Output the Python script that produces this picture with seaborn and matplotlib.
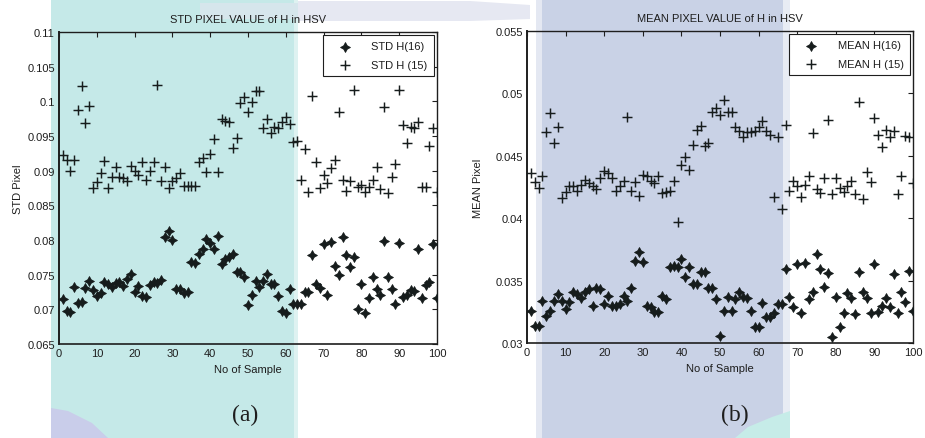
import matplotlib
matplotlib.use("Agg")
import matplotlib.pyplot as plt
from matplotlib.patches import Rectangle, Polygon
from matplotlib.ticker import FixedLocator, FuncFormatter
import pandas as pd
import seaborn as sns

# ---- data -------------------------------------------------------------
samples = list(range(1, 101))

std_h16 = [0.0715, 0.0697, 0.0696, 0.0732, 0.0709, 0.0710, 0.0731, 0.0741, 0.0728, 0.0719,
           0.0723, 0.0739, 0.0736, 0.0732, 0.0738, 0.0739, 0.0733, 0.0744, 0.0751, 0.0725,
           0.0734, 0.0719, 0.0718, 0.0735, 0.0739, 0.0738, 0.0742, 0.0805, 0.0813, 0.0800,
           0.0730, 0.0729, 0.0724, 0.0725, 0.0768, 0.0767, 0.0780, 0.0787, 0.0801, 0.0796,
           0.0787, 0.0806, 0.0765, 0.0773, 0.0775, 0.0780, 0.0754, 0.0754, 0.0746, 0.0706,
           0.0720, 0.0741, 0.0732, 0.0741, 0.0751, 0.0736, 0.0736, 0.0719, 0.0698, 0.0695,
           0.0730, 0.0708, 0.0708, 0.0708, 0.0725, 0.0725, 0.0778, 0.0736, 0.0731, 0.0794,
           0.0721, 0.0797, 0.0763, 0.0749, 0.0804, 0.0778, 0.0761, 0.0775, 0.0700, 0.0736,
           0.0694, 0.0716, 0.0746, 0.0729, 0.0720, 0.0799, 0.0746, 0.0730, 0.0708, 0.0795,
           0.0718, 0.0720, 0.0728, 0.0727, 0.0787, 0.0716, 0.0735, 0.0739, 0.0794, 0.0716]

std_h15 = [0.0922, 0.0915, 0.0899, 0.0915, 0.0988, 0.1022, 0.0969, 0.0993, 0.0875, 0.0884,
           0.0896, 0.0914, 0.0875, 0.0891, 0.0905, 0.0891, 0.0889, 0.0885, 0.0907, 0.0900,
           0.0894, 0.0912, 0.0886, 0.0899, 0.0912, 0.1024, 0.0885, 0.0905, 0.0875, 0.0885,
           0.0890, 0.0897, 0.0878, 0.0878, 0.0878, 0.0878, 0.0913, 0.0918, 0.0898, 0.0924,
           0.0945, 0.0898, 0.0974, 0.0971, 0.0970, 0.0932, 0.0947, 0.0997, 0.1006, 0.0984,
           0.0999, 0.1015, 0.1015, 0.0962, 0.0974, 0.0954, 0.0963, 0.0961, 0.0970, 0.0977,
           0.0967, 0.0941, 0.0943, 0.0886, 0.0931, 0.0869, 0.1007, 0.0912, 0.0875, 0.0894,
           0.0882, 0.0904, 0.0915, 0.0984, 0.0887, 0.0871, 0.0885, 0.1017, 0.0877, 0.0880,
           0.0869, 0.0876, 0.0886, 0.0906, 0.0873, 0.0992, 0.0868, 0.0891, 0.0909, 0.1017,
           0.0966, 0.0940, 0.0963, 0.0961, 0.0970, 0.0877, 0.0877, 0.0936, 0.0961, 0.0869]

mean_h16 = [0.0326, 0.0314, 0.0314, 0.0334, 0.0322, 0.0326, 0.0334, 0.0339, 0.0334, 0.0327,
            0.0333, 0.0341, 0.0339, 0.0336, 0.0341, 0.0343, 0.0330, 0.0344, 0.0343, 0.0331,
            0.0338, 0.0330, 0.0330, 0.0331, 0.0338, 0.0334, 0.0344, 0.0366, 0.0373, 0.0365,
            0.0330, 0.0329, 0.0325, 0.0325, 0.0338, 0.0335, 0.0361, 0.0362, 0.0361, 0.0367,
            0.0353, 0.0361, 0.0347, 0.0347, 0.0357, 0.0357, 0.0344, 0.0344, 0.0335, 0.0306,
            0.0326, 0.0337, 0.0326, 0.0335, 0.0341, 0.0337, 0.0336, 0.0326, 0.0313, 0.0313,
            0.0332, 0.0321, 0.0321, 0.0324, 0.0331, 0.0331, 0.0359, 0.0337, 0.0329, 0.0363,
            0.0324, 0.0364, 0.0335, 0.0341, 0.0371, 0.0359, 0.0345, 0.0356, 0.0305, 0.0337,
            0.0313, 0.0324, 0.0340, 0.0336, 0.0323, 0.0357, 0.0341, 0.0336, 0.0324, 0.0363,
            0.0325, 0.0330, 0.0336, 0.0329, 0.0355, 0.0324, 0.0341, 0.0333, 0.0358, 0.0326]

mean_h15 = [0.0436, 0.0429, 0.0424, 0.0434, 0.0469, 0.0484, 0.0460, 0.0473, 0.0416, 0.0421,
            0.0426, 0.0426, 0.0422, 0.0427, 0.0431, 0.0428, 0.0426, 0.0423, 0.0432, 0.0438,
            0.0436, 0.0432, 0.0422, 0.0426, 0.0430, 0.0481, 0.0422, 0.0429, 0.0418, 0.0435,
            0.0434, 0.0430, 0.0428, 0.0434, 0.0420, 0.0421, 0.0422, 0.0430, 0.0397, 0.0443,
            0.0449, 0.0439, 0.0459, 0.0471, 0.0474, 0.0458, 0.0460, 0.0485, 0.0488, 0.0483,
            0.0495, 0.0485, 0.0485, 0.0473, 0.0470, 0.0465, 0.0469, 0.0469, 0.0470, 0.0473,
            0.0478, 0.0470, 0.0467, 0.0417, 0.0465, 0.0407, 0.0475, 0.0422, 0.0430, 0.0426,
            0.0417, 0.0427, 0.0434, 0.0468, 0.0423, 0.0420, 0.0432, 0.0479, 0.0419, 0.0432,
            0.0424, 0.0421, 0.0426, 0.0430, 0.0419, 0.0493, 0.0415, 0.0437, 0.0429, 0.0480,
            0.0467, 0.0457, 0.0471, 0.0465, 0.0470, 0.0419, 0.0434, 0.0466, 0.0465, 0.0428]

x_ticks = [0, 10, 20, 30, 40, 50, 60, 70, 80, 90, 100]
std_yticks = [0.065, 0.07, 0.075, 0.08, 0.085, 0.09, 0.095, 0.1, 0.105, 0.11]
mean_yticks = [0.03, 0.035, 0.04, 0.045, 0.05, 0.055]

# ---- style ------------------------------------------------------------
sns.set_theme(style="white")
plt.rcParams['font.family'] = ['Liberation Sans', 'DejaVu Sans']
plt.rcParams['axes.edgecolor'] = '#1e1e1e'

W, H = 925, 439
FS = 8
fig = plt.figure(figsize=(W / 100, H / 100), dpi=100)
fig.patch.set_facecolor('white')


def fx(px):
    return px / W


def fy(py):
    return 1 - py / H


def fig_poly(pts, color):
    fig.patches.append(Polygon([(fx(x), fy(y)) for x, y in pts], closed=True,
                               transform=fig.transFigure, facecolor=color,
                               edgecolor='none', zorder=-5))


# tinted panels behind the plots
for x0, x1, c in [(51, 294, '#c5e9e8'), (294, 298, '#def2f1'),
                  (536, 542, '#e4e8f2'), (542, 783, '#c9d2e6'), (783, 790, '#e8ecf4')]:
    fig.patches.append(Rectangle((fx(x0), 0), fx(x1) - fx(x0), 1, transform=fig.transFigure,
                                 facecolor=c, edgecolor='none', zorder=-6))
fig_poly([(298, 2), (470, 2), (530, 6), (530, 20), (470, 22), (298, 22)], '#e6e8f2')
fig_poly([(200, 4), (298, 4), (298, 20), (200, 20)], '#d6e6ec')
fig_poly([(51, 409), (68, 412), (92, 424), (108, 439), (51, 439)], '#c9cdea')
fig_poly([(790, 412), (790, 439), (735, 439), (748, 428), (772, 418)], '#c6ece8')

ax1 = fig.add_axes([fx(59), fy(345), fx(437) - fx(59), (345 - 33) / H])
ax2 = fig.add_axes([fx(527), fy(344), fx(913) - fx(527), (344 - 32) / H])

ink = '#161c1c'
star = (4, 1, 0)


def draw_panel(ax, y16, y15, lab16, lab15, yticks, title, ylabel, ylabelpad):
    df = pd.DataFrame({'sample': samples, 'h16': y16, 'h15': y15})
    ax.set_facecolor('none')
    sns.scatterplot(data=df, x='sample', y='h16', ax=ax, marker=star, s=50,
                    color=ink, edgecolor=ink, linewidth=0.6, label=lab16, zorder=3)
    sns.scatterplot(data=df, x='sample', y='h15', ax=ax, marker='+', s=62,
                    color=ink, linewidth=1.05, label=lab15, zorder=3)
    ax.set_xlim(0, 100)
    ax.set_ylim(yticks[0], yticks[-1])
    ax.xaxis.set_major_locator(FixedLocator(x_ticks))
    ax.yaxis.set_major_locator(FixedLocator(yticks))
    ax.yaxis.set_major_formatter(FuncFormatter(lambda v, p: f"{v:g}"))
    ax.tick_params(direction='in', top=True, right=True, length=3.5, width=0.8,
                   labelsize=FS, pad=3, colors='#1e1e1e')
    for sp in ax.spines.values():
        sp.set_linewidth(1.0)
        sp.set_color('#1e1e1e')
    ax.spines['left'].set_linewidth(1.4)
    ax.spines['bottom'].set_linewidth(1.2)
    ax.set_title(title, fontsize=FS, pad=7, color='#1e1e1e')
    ax.set_xlabel('No of Sample', fontsize=FS, labelpad=4, color='#1e1e1e')
    ax.set_ylabel(ylabel, fontsize=FS, labelpad=ylabelpad, color='#1e1e1e')
    leg = ax.legend(loc='upper right', frameon=True, fancybox=False, framealpha=1,
                    edgecolor='#1e1e1e', fontsize=FS, handlelength=2.8, handletextpad=1.0,
                    borderpad=0.55, labelspacing=0.75, borderaxespad=0.3)
    leg.get_frame().set_linewidth(0.8)
    leg.get_frame().set_facecolor('white')
    for t in leg.get_texts():
        t.set_color('#1e1e1e')


draw_panel(ax1, std_h16, std_h15, 'STD H(16)', 'STD H (15)', std_yticks,
           'STD PIXEL VALUE of H in HSV', 'STD Pixel', 3)
draw_panel(ax2, mean_h16, mean_h15, 'MEAN H(16)', 'MEAN H (15)', mean_yticks,
           'MEAN PIXEL VALUE of H in HSV', 'MEAN Pixel', 9)

fig.text(fx(245), fy(415), '(a)', ha='center', va='center', fontsize=17,
         family=['Liberation Serif', 'DejaVu Serif'], color='#1e1e1e')
fig.text(fx(735), fy(415), '(b)', ha='center', va='center', fontsize=17,
         family=['Liberation Serif', 'DejaVu Serif'], color='#1e1e1e')

fig.savefig('out.png', dpi=100, facecolor='white')
